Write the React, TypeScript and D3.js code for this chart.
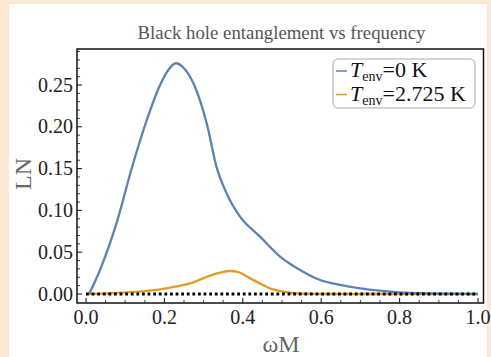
import React from "react";
import * as d3 from "d3";

const blueX = [0.008, 0.036, 0.08, 0.117, 0.155, 0.189, 0.21, 0.229, 0.25, 0.274, 0.308, 0.333, 0.359, 0.393, 0.444, 0.495, 0.546, 0.597, 0.648, 0.699, 0.75, 0.8, 0.85, 0.9, 1.0];
const blueY = [0, 0.029, 0.088, 0.151, 0.208, 0.25, 0.268, 0.276, 0.27, 0.252, 0.204, 0.152, 0.12, 0.0925, 0.0686, 0.0447, 0.0287, 0.0167, 0.0108, 0.0068, 0.004, 0.002, 0.001, 0.0004, 0];
const orangeX = [0, 0.05, 0.104, 0.15, 0.189, 0.23, 0.274, 0.3, 0.342, 0.367, 0.39, 0.418, 0.45, 0.469, 0.5, 0.52, 0.55, 0.6, 1.0];
const orangeY = [0, 0.0005, 0.002, 0.0035, 0.0055, 0.009, 0.014, 0.019, 0.0255, 0.0275, 0.026, 0.019, 0.011, 0.0068, 0.003, 0.0015, 0.0005, 0, 0];
const xTicks = [0, 0.2, 0.4, 0.6, 0.8, 1.0];
const yTicks = [0, 0.05, 0.1, 0.15, 0.2, 0.25];
const legendLabels = ["=0 K", "=2.725 K"];
const colors = ["#5e81b5", "#e19c24"];

const W = 491, H = 357;
const x = d3.scaleLinear().domain([0, 1]).range([86, 478]);
const y = d3.scaleLinear().domain([0, 0.25]).range([294, 85]);
const left = 77, right = 483.5, top = 49, bottom = 303;

export default function App() {
  const line = d3.line<[number, number]>().x(d => x(d[0])).y(d => y(d[1])).curve(d3.curveMonotoneX);
  const blue = blueX.map((v, i) => [v, blueY[i]] as [number, number]);
  const orange = orangeX.map((v, i) => [v, orangeY[i]] as [number, number]);
  const xMinor = d3.range(0, 1.0001, 0.05).filter(v => !xTicks.some(t => Math.abs(t - v) < 1e-6));
  const yMinor = d3.range(0, 0.2901, 0.01).filter(v => !yTicks.some(t => Math.abs(t - v) < 1e-6));
  const font = "'Liberation Serif', 'Times New Roman', serif";
  return (
    <svg width={W} height={H} style={{ position: "absolute", left: 0, top: 0 }} fontFamily={font}>
      <rect x={0} y={0} width={W} height={H} fill="#f9e8d2" />
      <rect x={9} y={4} width={478} height={H} fill="#ffffff" />
      <text x={281.5} y={39} textAnchor="middle" fontSize={18.8} fill="#555">Black hole entanglement vs frequency</text>
      <clipPath id="clip"><rect x={left} y={top} width={right - left} height={bottom - top} /></clipPath>
      <g clipPath="url(#clip)">
        <path d={line(orange) || ""} fill="none" stroke={colors[1]} strokeWidth={2.3} />
        <path d={line(blue) || ""} fill="none" stroke={colors[0]} strokeWidth={2.3} />
        <line x1={x(0)} x2={x(1)} y1={y(0)} y2={y(0)} stroke="#000" strokeWidth={2.8} strokeDasharray="2.8,2.8" />
      </g>
      <rect x={left} y={top} width={right - left} height={bottom - top} fill="none" stroke="#111" strokeWidth={1.5} />
      {xTicks.map(t => (
        <g key={"x" + t}>
          <line x1={x(t)} x2={x(t)} y1={bottom} y2={bottom - 5} stroke="#111" strokeWidth={1} />
          <text x={x(t)} y={bottom + 21} textAnchor="middle" fontSize={20} fill="#222">{t.toFixed(1)}</text>
        </g>
      ))}
      {xMinor.map(t => <line key={"xm" + t} x1={x(t)} x2={x(t)} y1={bottom} y2={bottom - 3} stroke="#111" strokeWidth={0.8} />)}
      {yTicks.map(t => (
        <g key={"y" + t}>
          <line x1={left} x2={left + 5} y1={y(t)} y2={y(t)} stroke="#111" strokeWidth={1} />
          <text x={left - 4} y={y(t) + 6.5} textAnchor="end" fontSize={20} fill="#222">{t.toFixed(2)}</text>
        </g>
      ))}
      {yMinor.map(t => <line key={"ym" + t} x1={left} x2={left + 3} y1={y(t)} y2={y(t)} stroke="#111" strokeWidth={0.8} />)}
      <text transform={`translate(31,174) rotate(-90)`} textAnchor="middle" fontSize={24} fill="#666">LN</text>
      <text x={281} y={352} textAnchor="middle" fontSize={24} fill="#666">ωM</text>
      <rect x={333} y={59} width={142} height={49} rx={5} fill="#fff" stroke="#aaa" strokeWidth={1} />
      {legendLabels.map((lab, i) => (
        <g key={lab}>
          <line x1={336} x2={347} y1={71 + i * 23.5} y2={71 + i * 23.5} stroke={colors[i]} strokeWidth={1.5} />
          <text x={350} y={77 + i * 23.5} fontSize={22} fill="#111">
            <tspan fontStyle="italic">T</tspan>
            <tspan fontSize={14} dy={4}>env</tspan>
            <tspan dy={-4}>{lab}</tspan>
          </text>
        </g>
      ))}
    </svg>
  );
}
